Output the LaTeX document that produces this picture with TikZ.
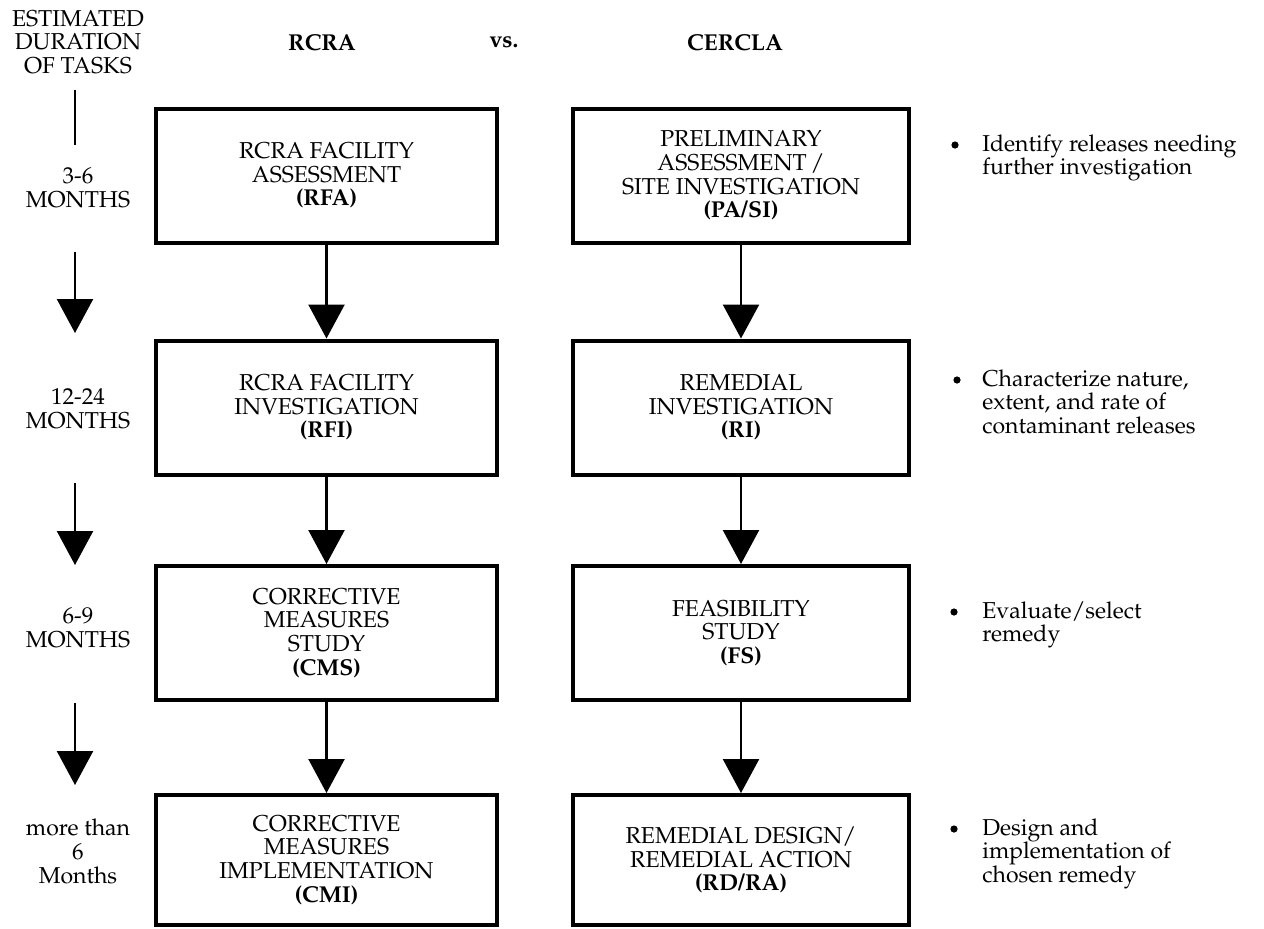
\documentclass[tikz,border=0pt]{standalone}
\usepackage[T1]{fontenc}
\renewcommand{\rmdefault}{ppl}
\usepackage{tikz}
\usetikzlibrary{arrows.meta,positioning}
\newcommand{\sz}{\fontsize{11.5}{11.8}\selectfont}
\tikzstyle{task} = [draw, line width=2pt, align=center, inner sep=0pt, minimum height=67pt]
\tikzstyle{rcrabox} = [task, minimum width=170.5pt]
\tikzstyle{cerclabox} = [task, minimum width=168pt]
\tikzstyle{flow} = [line width=1.2pt, -{Triangle[width=18pt,length=17pt]}]
\tikzstyle{period} = [align=center, inner sep=0pt]
\tikzstyle{note} = [align=left, anchor=north west, inner sep=0pt]
\tikzstyle{dot} = [circle, fill, inner sep=0pt, minimum size=3.6pt]

\begin{document}
\begin{tikzpicture}[x=0.5pt, y=-0.5pt, every node/.style={font=\sz}]
            \useasboundingbox (0,0) rectangle (1264,928);
            % column heads
            \node[period] (title) at (78,42) {ESTIMATED\\DURATION\\OF TASKS};
            \node[anchor=base] (rcra) at (322,50) {\textbf{RCRA}};
            \node[anchor=base] (vs) at (504,47) {\textbf{vs.}};
            \node[anchor=base] (cercla) at (735,50) {\textbf{CERCLA}};
            % RCRA
            \node[rcrabox] (rfa) at (326.5,175.5) {RCRA FACILITY\\ASSESSMENT\\\textbf{(RFA)}};
            \node[rcrabox] (rfi) at (326.5,407.5) {RCRA FACILITY\\INVESTIGATION\\\textbf{(RFI)}};
            \node[rcrabox] (cms) at (326.5,633) {CORRECTIVE\\MEASURES\\STUDY\\\textbf{(CMS)}};
            \node[rcrabox, minimum height=65pt] (cmi) at (326.5,860) {CORRECTIVE\\MEASURES\\IMPLEMENTATION\\\textbf{(CMI)}};
            % CERCLA
            \node[cerclabox, right=36pt of rfa] (pasi) {PRELIMINARY\\ASSESSMENT\,/\\SITE INVESTIGATION\\\textbf{(PA/SI)}};
            \node[cerclabox, right=36pt of rfi] (ri) {REMEDIAL\\INVESTIGATION\\\textbf{(RI)}};
            \node[cerclabox, right=36pt of cms] (fs) {FEASIBILITY\\STUDY\\\textbf{(FS)}};
            \node[cerclabox, minimum height=65pt, right=36pt of cmi] (rdra) {REMEDIAL DESIGN/\\REMEDIAL ACTION\\\textbf{(RD/RA)}};
            \foreach \a/\b in {rfa/rfi, rfi/cms, cms/cmi, pasi/ri, ri/fs, fs/rdra}
                \draw[flow] (\a) -- (\b);
            % durations
            \node[period] (d1) at (78,187.5) {3-6\\MONTHS};
            \node[period] (d2) at (78,409) {12-24\\MONTHS};
            \node[period] (d3) at (78,628) {6-9\\MONTHS};
            \node[period] (d4) at (78,851.5) {more than\\6\\Months};
            \coordinate (t0) at (75,90);
            \coordinate (t0e) at (75,145);
            \draw[line width=1.2pt] (t0) -- (t0e);
            \foreach \i/\top/\tip in {1/252/333, 2/483/565, 3/703/785} {
                \coordinate (ta\i) at (75,\top);
                \coordinate (tb\i) at (75,\tip);
                \draw[flow] (ta\i) -- (tb\i);
            }
            % notes
            \node[dot] (b1) at (955,145) {};
            \node[note] (n1) at (982,134) {Identify releases needing\\further investigation};
            \node[dot] (b2) at (957,380) {};
            \node[note] (n2) at (982,369) {Characterize nature,\\extent, and rate of\\contaminant releases};
            \node[dot] (b3) at (954,612) {};
            \node[note] (n3) at (982,601) {Evaluate/select\\remedy};
            \node[dot] (b4) at (954,829) {};
            \node[note] (n4) at (982,818) {Design and\\implementation of\\chosen remedy};
\end{tikzpicture}
\end{document}
